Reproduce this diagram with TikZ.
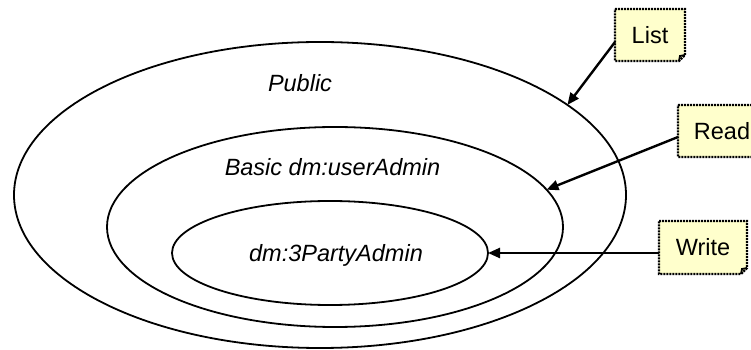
\documentclass[tikz,border=0pt]{standalone}
\usepackage{fontspec}
\setmainfont{Liberation Sans}
\usetikzlibrary{arrows.meta,shapes.geometric,backgrounds}
\definecolor{noteyellow}{HTML}{FFFFCC}
\tikzset{
  x=1pt, y=1pt,
  zone/.style={ellipse, draw, line width=1.8pt, inner sep=0pt, outer sep=0pt},
  zonelabel/.style={font=\fontsize{23.5}{28}\selectfont\itshape, anchor=base, inner sep=0pt},
  note/.style={inner sep=0pt, outer sep=0pt, font=\fontsize{23.5}{28}\selectfont},
  noteedge/.style={fill=noteyellow, line width=2.4pt, dash pattern=on 2pt off 1pt, line join=miter},
  notefold/.style={line width=1.8pt},
  link/.style={line width=2.4pt, -{Triangle[length=12pt,width=10pt]}},
}
\begin{document}
\begin{tikzpicture}
\useasboundingbox (0,0) rectangle (751,350);
\clip (0,0) rectangle (751,350);

% nested access zones
\node[zone, minimum width=612pt, minimum height=306pt] (public) at (320,155) {};
\node[zone, minimum width=456pt, minimum height=200pt] (basic) at (335,123) {};
\node[zone, minimum width=316pt, minimum height=104pt] (inner) at (330,97) {};

\node[zonelabel] (publiclbl) at (300,258) {Public};
\node[zonelabel] (basiclbl) at (332.5,174) {Basic dm:userAdmin};
\node[zonelabel] (innerlbl) at (336,88) {dm:3PartyAdmin};

% permission notes
\node[note, minimum width=70pt, minimum height=52pt] (list) at (650,315) {List};
\node[note, minimum width=88pt, minimum height=52pt] (read) at (722,219) {Read};
\node[note, minimum width=88pt, minimum height=53pt] (write) at (703,102.5) {Write};

\begin{scope}[on background layer]
  \foreach \n in {list,read,write}{
    \draw[noteedge] (\n.north west) -- (\n.north east) -- ([yshift=6pt]\n.south east)
      -- ([xshift=-6pt]\n.south east) -- (\n.south west) -- cycle;
    \draw[notefold] ([yshift=6pt]\n.south east) -- ([xshift=-5pt,yshift=5pt]\n.south east)
      -- ([xshift=-6pt]\n.south east);
  }
\end{scope}

% connectors
\draw[link] ([yshift=-7pt]list.west) -- (public.20);
\draw[link] ([yshift=-6pt]read.west) -- (basic.10);
\draw[link] (write.west |- inner.east) -- (inner.east);
\end{tikzpicture}
\end{document}
